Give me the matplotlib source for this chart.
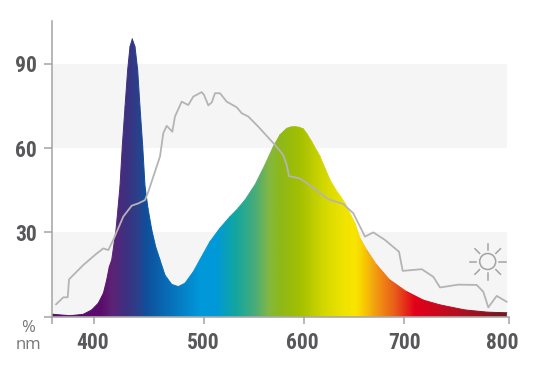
import numpy as np
import matplotlib
matplotlib.use('Agg')
import matplotlib.pyplot as plt
from matplotlib.collections import LineCollection
from matplotlib.colors import LinearSegmentedColormap
from matplotlib.patches import Polygon, Circle

# led spectrum
led_nm = [361.8, 363, 378.2, 390.3, 397.9, 403.9, 408.5, 411.5, 413.9, 416.1, 420, 423.6, 425.7, 428.2, 430.6,
          432.7, 434.8, 437.3, 439.7, 441.8, 444.3, 446.4, 449.1, 452.5, 456, 460, 464.5, 470.6, 476.6, 482.7,
          490.3, 497.9, 506, 516, 526, 532.7, 541, 551, 559.3, 569.3, 576, 582.7, 587, 591, 595, 599.3, 603, 607.7,
          616, 626, 632, 637, 641, 644.3, 651, 656, 662.7, 672.7, 686, 702.6, 718.4, 734.3, 758.1, 780, 798]
led_val = [0.9, 0.85, 0.35, 0.85, 2.4, 4.8, 8.3, 13, 17.8, 20.2, 30.9, 46.3, 60.5, 74.7, 87.8,
           96, 98.8, 96, 87.8, 74.7, 60.5, 46.3, 38.5, 30.9, 25, 20.2, 14.8, 11.5, 10.7, 11.9,
           16, 21.4, 26.7, 31.5, 35.6, 38, 41.5, 46.9, 52.8, 60.5, 64.7, 67, 67.5, 67.6, 67.4, 66.8, 65, 62.3,
           57, 48.6, 45, 42.5, 40.4, 38, 33.2, 27.9, 23.7, 18.4, 13, 8.9, 5.9, 4.2, 2.4, 1.6, 1.4]

# daylight curve
sun_nm = [365.5, 372.1, 376.1, 377.3, 390.3, 402.5, 408.5, 413, 417.5, 426.6, 434.3, 440.3, 446.4, 449.4,
          453.9, 460, 463, 466.1, 471.2, 473.6, 479.7, 485.7, 490.3, 497.9, 500, 504.3, 507.7, 511, 516,
          522.7, 532.7, 537.7, 544.3, 554.3, 571, 579.3, 582.7, 585, 596, 607.7, 621, 624.3, 639.3, 649.3,
          661, 669.3, 681, 695, 698.7, 716.9, 727.9, 734.3, 751.7, 769.2, 775.5, 780.3, 788.3, 797.8]
sun_val = [4.4, 6.9, 6.9, 13.3, 18.4, 22.5, 24.3, 23.7, 27.3, 35.6, 39.5, 40.3, 41.5, 44.5,
           49.8, 57, 65.3, 67.9, 65.8, 71.2, 76.5, 75.3, 78.3, 79.9, 78.9, 75.2, 76.2, 79.5, 79.5,
           76.5, 74.5, 72.4, 71.2, 67.6, 61.1, 57.5, 54, 50, 49.2, 46.3, 42.7, 41.8, 40.1, 36.8,
           28.5, 30, 27.3, 23.1, 16.3, 16.9, 14.2, 10.4, 11.4, 11.3, 8.9, 3.3, 7.4, 5.3]

x_ticks = [400, 500, 600, 700, 800]
y_ticks = [0, 30, 60, 90]
y_labels = ['', '30', '60', '90']

# the wavelength axis of the original is not quite even
scale_nm = [361.8, 400, 500, 600, 700, 800]
scale_pos = [0, 42, 152, 252, 352, 457]

grad_nm = [361.8, 405.5, 416, 428, 439, 447, 460, 496, 512, 531, 551, 565, 575, 596, 620, 640, 650, 656, 671, 691,
           710, 753, 798]
grad_col = ['#5a0c6c', '#5a0c6c', '#5e2276', '#3f2f80', '#2c3f8a', '#0f4f9a', '#0a63ae', '#0098da', '#0099d8',
            '#12a6a0', '#4aac78', '#84b840', '#8cb81a', '#a4c000', '#d4d800', '#f0e400', '#f8e600', '#f8d800',
            '#f39c12', '#e85a1a', '#e2001a', '#b01020', '#6b1a20']

GREY = '#a3a3a3'
DARK = '#58585a'
NUM_FONT = ['Roboto Condensed', 'Open Sans Condensed', 'Liberation Sans Narrow', 'Open Sans', 'DejaVu Sans']
W, H = 555, 381


def to_frac(nm):
    return (np.interp(nm, scale_nm, scale_pos) - scale_pos[0]) / (scale_pos[-1] - scale_pos[0])


fig = plt.figure(figsize=(W / 100, H / 100), dpi=100)
ax = fig.add_axes([52 / W, 1 - 316.7 / H, 457 / W, 296 / H])
ax.set_xscale('function', functions=(lambda v: np.interp(v, scale_nm, scale_pos),
                                     lambda v: np.interp(v, scale_pos, scale_nm)))

# light bands
band_end = (506.7 - 52) / 457
for lo, hi in [(0, 30), (60, 90)]:
    ax.axhspan(lo, hi, xmin=0, xmax=band_end, color='#f5f5f5', lw=0, zorder=1)

# gradient under the led curve
stops = [float(to_frac(n)) for n in grad_nm]
stops[-1] = 1.0
cmap = LinearSegmentedColormap.from_list('spec', list(zip(stops, grad_col)), N=512)
img = ax.imshow(np.linspace(0, 1, 512).reshape(1, -1), extent=(0, 1, 0, 1), transform=ax.transAxes,
                aspect='auto', cmap=cmap, zorder=2)
ax.set_xlim(361.8, 800)
ax.set_ylim(0, 105.3)
outline = Polygon(list(zip(led_nm, led_val)) + [(798, 0), (361.8, 0)], closed=True, transform=ax.transData,
                  fc='none', ec='none')
ax.add_patch(outline)
img.set_clip_path(outline)

# thin coloured edge, the clip alone leaves the curve jagged
pts = np.column_stack([led_nm, led_val])
edge = LineCollection(np.stack([pts[:-1], pts[1:]], axis=1), cmap=cmap, norm=plt.Normalize(0, 1),
                      linewidths=0.7, capstyle='round', zorder=2)
edge.set_array(to_frac((pts[:-1, 0] + pts[1:, 0]) / 2))
ax.add_collection(edge, autolim=False)

ax.plot(sun_nm, sun_val, color='#b4b4b4', lw=1.3, zorder=3, solid_joinstyle='round')

for side in ['top', 'right']:
    ax.spines[side].set_visible(False)
for side in ['left', 'bottom']:
    ax.spines[side].set_color(GREY)
    ax.spines[side].set_linewidth(1.1)
    ax.spines[side].set_zorder(4)

ax.set_yticks(y_ticks, y_labels)
ax.set_xticks([361.8] + x_ticks, [''] * 6)
ax.tick_params(axis='y', length=5.8, width=1.1, color=GREY, pad=5, labelcolor=DARK)
ax.tick_params(axis='x', length=4.8, width=1.1, color=GREY)
for lab in ax.get_yticklabels():
    lab.set_family(NUM_FONT)
    lab.set_weight('bold')
    lab.set_size(15.5)

# the 800 label sits left of its tick in the original
for nm, dx in zip(x_ticks, [-1, -1, -2, 1, -7]):
    ax.annotate(str(nm), (nm, 0), xytext=(dx, -26), textcoords='offset pixels', ha='center', va='center',
                color=DARK, fontsize=15.5, fontweight='bold', annotation_clip=False, family=NUM_FONT)

fig.text(28 / W, 1 - 328 / H, '%', ha='center', va='center', color='#77777a', fontsize=12, family='Open Sans')
fig.text(28 / W, 1 - 345 / H, 'nm', ha='center', va='center', color='#77777a', fontsize=12, family='Open Sans')

# sun icon
sun_ax = fig.add_axes([(487.7 - 20) / W, 1 - (261.5 + 20) / H, 40 / W, 40 / H], zorder=5)
sun_ax.set_xlim(-20, 20)
sun_ax.set_ylim(-20, 20)
sun_ax.axis('off')
sun_ax.add_patch(Circle((0, 0), 8, fc='none', ec=GREY, lw=1.1))
for ang in np.deg2rad(np.arange(0, 360, 45)):
    sun_ax.plot([11.5 * np.cos(ang), 18 * np.cos(ang)], [11.5 * np.sin(ang), 18 * np.sin(ang)],
                color=GREY, lw=1.1)

fig.savefig('out.png', dpi=100)
